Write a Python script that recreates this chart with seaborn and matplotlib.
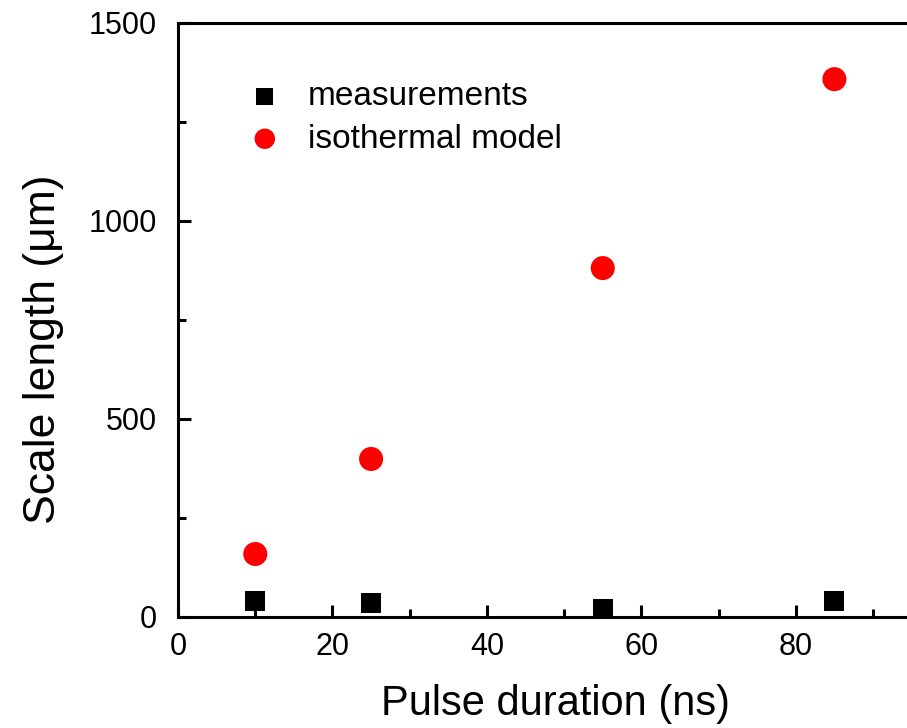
import pandas as pd
import seaborn as sns
import matplotlib.pyplot as plt
from matplotlib.ticker import MultipleLocator

# dados
duracao = [10, 25, 55, 85]
medicoes = [40, 35, 20, 40]
modelo = [159, 399, 881, 1358]

sns.set_style("ticks")
plt.rcParams['font.family'] = ['Liberation Sans', 'DejaVu Sans']
plt.rcParams['text.color'] = 'black'
plt.rcParams['axes.labelcolor'] = 'black'

fig = plt.figure(figsize=(9.07, 7.28), dpi=100)
ax = fig.add_axes([0.1963, 0.1525, 0.8037, 0.816])

sns.scatterplot(x=duracao, y=medicoes, marker='s', s=210, color='black',
                edgecolor='none', label='measurements', ax=ax, clip_on=False)
sns.scatterplot(x=duracao, y=modelo, marker='o', s=300, color='#ff0000',
                edgecolor='none', label='isothermal model', ax=ax)

ax.set_xlim(0, 94.4)
ax.set_ylim(0, 1500)
ax.xaxis.set_major_locator(MultipleLocator(20))
ax.xaxis.set_minor_locator(MultipleLocator(10))
ax.yaxis.set_major_locator(MultipleLocator(500))
ax.yaxis.set_minor_locator(MultipleLocator(250))
ax.tick_params(which='both', direction='in', width=2.2, labelsize=22,
               top=False, right=False, colors='black')
ax.tick_params(which='major', length=9)
ax.tick_params(which='minor', length=6)
ax.tick_params(axis='y', pad=15)
ax.tick_params(axis='x', pad=11)
for s in ax.spines.values():
    s.set_linewidth(2.2)
    s.set_color('black')
ax.spines['right'].set_visible(False)
ax.spines['top'].set_visible(True)

ax.set_xlabel("Pulse duration (ns)", fontsize=30)
ax.set_ylabel("Scale length (\u03bcm)", fontsize=32)
ax.xaxis.set_label_coords(0.518, -0.112)
ax.yaxis.set_label_coords(-0.157, 0.451)

ax.legend(loc='upper left', bbox_to_anchor=(0.055, 0.953), frameon=False,
          fontsize=24, handlelength=1.0, handletextpad=0.8,
          labelspacing=0.35, markerscale=0.85)

plt.savefig("out.png", dpi=100)
